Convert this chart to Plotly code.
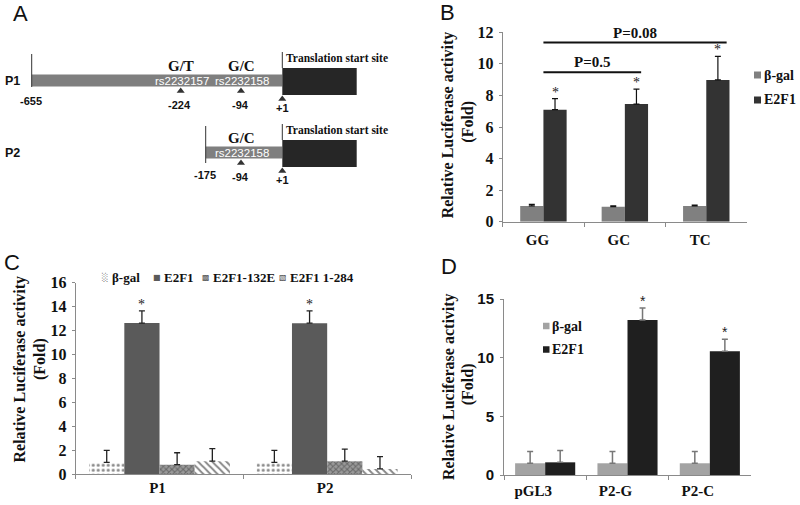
import plotly.graph_objects as go

W, H = 800, 505
SERIF = "Liberation Serif, Times New Roman, serif"
SANS = "Liberation Sans, Arial, sans-serif"

# ---------------- data ----------------
# Panel B
b_cats = ["GG", "GC", "TC"]
b_bgal = [1.0, 0.95, 1.0]
b_bgal_err = [0.1, 0.05, 0.05]
b_e2f1 = [7.1, 7.45, 8.98]
b_e2f1_err = [0.7, 0.95, 1.5]
b_p_labels = ["P=0.5", "P=0.08"]
b_p_level = [9.47, 11.35]
b_p_end = [1.2, 2.25]

# Panel C
c_cats = ["P1", "P2"]
c_bgal = [1.0, 1.0]
c_bgal_err = [1.0, 1.0]
c_e2f1 = [12.63, 12.62]
c_e2f1_err = [1.02, 1.02]
c_132e = [0.8, 1.1]
c_132e_err = [1.0, 1.0]
c_1284 = [1.1, 0.45]
c_1284_err = [1.05, 1.02]

# Panel D
d_cats = ["pGL3", "P2-G", "P2-C"]
d_bgal = [1.0, 1.0, 1.0]
d_bgal_err = [1.0, 1.0, 1.0]
d_e2f1 = [1.08, 13.2, 10.55]
d_e2f1_err = [1.0, 1.03, 1.03]
d_sig_e2f1 = [False, True, True]


def px(x):
    return x / W


def py(y):
    return 1 - y / H


fig = go.Figure()
annos = []
shapes = []


def add_group(series, cats, xa, ya, gap, err_color, err_thick, star_font, star_shift):
    n = len(series)
    gw = 1 - gap
    bw = gw / n
    for k, s in enumerate(series):
        off = -gw / 2 + k * bw
        fig.add_trace(go.Bar(
            x=cats, y=s["y"], width=bw, offset=off, xaxis=xa, yaxis=ya,
            name=s["name"], showlegend=False, marker=s["marker"],
            error_y=dict(type="data", array=s["err"], arrayminus=[0] * len(cats),
                         symmetric=False, color=err_color, thickness=err_thick, width=3),
        ))
        for i, c in enumerate(cats):
            if s["sig"][i]:
                annos.append(dict(
                    x=i + off + bw / 2, y=s["y"][i] + s["err"][i], xref=xa, yref=ya,
                    text="*", showarrow=False, yanchor="bottom", yshift=star_shift,
                    font=star_font))


# Panel B bars
add_group([
    dict(name="β-gal", y=b_bgal, err=b_bgal_err, sig=[False] * 3,
         marker=dict(color="#808080", line=dict(width=0))),
    dict(name="E2F1", y=b_e2f1, err=b_e2f1_err, sig=[True] * 3,
         marker=dict(color="#333333", line=dict(width=0))),
], b_cats, "x", "y", 0.43, "#111", 1.2, dict(family=SERIF, size=14, color="#222"), -3)

# Panel C bars
add_group([
    dict(name="β-gal", y=c_bgal, err=c_bgal_err, sig=[False] * 2,
         marker=dict(color="white", line=dict(width=0),
                     pattern=dict(shape=".", fgcolor="#111", size=5, solidity=0.3))),
    dict(name="E2F1", y=c_e2f1, err=c_e2f1_err, sig=[True] * 2,
         marker=dict(color="#5a5a5a", line=dict(width=0))),
    dict(name="E2F1-132E", y=c_132e, err=c_132e_err, sig=[False] * 2,
         marker=dict(color="#9a9a9a", line=dict(width=0),
                     pattern=dict(shape="x", fgcolor="#333", size=4, solidity=0.45))),
    dict(name="E2F1 1-284", y=c_1284, err=c_1284_err, sig=[False] * 2,
         marker=dict(color="white", line=dict(width=0),
                     pattern=dict(shape="\\", fgcolor="#111", size=5, solidity=0.4))),
], c_cats, "x2", "y2", 0.16, "#222", 1.3, dict(family=SERIF, size=14, color="#222"), -3)

# Panel D bars
add_group([
    dict(name="β-gal", y=d_bgal, err=d_bgal_err, sig=[False] * 3,
         marker=dict(color="#a3a3a3", line=dict(width=0))),
    dict(name="E2F1", y=d_e2f1, err=d_e2f1_err, sig=d_sig_e2f1,
         marker=dict(color="#1f1f1f", line=dict(width=0))),
], d_cats, "x3", "y3", 0.27, "#777", 1.5, dict(family=SANS, size=14, color="#222"), -3)

# P-value comparison lines in B
for lab, lvl, end in zip(b_p_labels, b_p_level, b_p_end):
    shapes.append(dict(type="line", xref="x", yref="y", x0=0, x1=end, y0=lvl, y1=lvl,
                       line=dict(color="#111", width=2)))
    annos.append(dict(x=end / 2, y=lvl, xref="x", yref="y", text=lab, showarrow=False,
                      yanchor="bottom", yshift=0,
                      font=dict(family=SERIF, size=15, color="#111", weight="bold")))

# ---------------- axes ----------------
axis_line = "#8a8a8a"
serif_ytick = dict(family=SERIF, size=16, color="#111", weight="bold")
serif_xtick = dict(family=SERIF, size=15, color="#111", weight="bold")
sans_tick = dict(family=SANS, size=15, color="#111", weight="bold")

xcommon = dict(type="category", showgrid=False, zeroline=False, showline=True,
               linecolor=axis_line, linewidth=1, ticks="outside", tickson="boundaries",
               ticklen=4, tickcolor=axis_line, automargin=False)
ycommon = dict(showgrid=False, zeroline=False, showline=True, linecolor=axis_line,
               linewidth=1, ticks="outside", ticklen=3, tickcolor=axis_line, automargin=False)

layout = dict(
    width=W, height=H, margin=dict(l=0, r=0, t=0, b=0, pad=0, autoexpand=False),
    paper_bgcolor="white", plot_bgcolor="rgba(0,0,0,0)", barmode="overlay",
    showlegend=False,
    xaxis=dict(xcommon, domain=[px(502.7), px(747)], anchor="y", range=[-0.5, 2.5],
               tickfont=serif_xtick, ticklabelshift=-6, ticklabelstandoff=4),
    yaxis=dict(ycommon, domain=[py(221.7), py(32.3)], anchor="x", range=[0, 12], dtick=2,
               tickfont=serif_ytick, ticklabelstandoff=2),
    xaxis2=dict(xcommon, domain=[px(75.7), px(411)], anchor="y2", range=[-0.5, 1.5],
                tickfont=serif_xtick, ticklabelshift=-2, ticklabelstandoff=0),
    yaxis2=dict(ycommon, domain=[py(474.3), py(282.7)], anchor="x2", range=[0, 16], dtick=2,
                tickfont=serif_ytick, ticklabelstandoff=2),
    xaxis3=dict(xcommon, domain=[px(504), px(751)], anchor="y3", range=[-0.5, 2.5],
                tickfont=serif_xtick, ticklabelshift=-12, ticklabelstandoff=2),
    yaxis3=dict(ycommon, domain=[py(475), py(299)], anchor="x3", range=[0, 15], dtick=5,
                tickfont=sans_tick, ticklabelstandoff=3),
    xaxis4=dict(domain=[0, 0.5], anchor="y4", range=[0, 400], visible=False, automargin=False),
    yaxis4=dict(domain=[py(250), 1], anchor="x4", range=[250, 0], visible=False, automargin=False),
)

# y-axis titles
ytitle_font = dict(family=SERIF, size=16, color="#111", weight="bold")
for (x1, y1, x2, y2) in [(448.3, 125, 467.7, 122), (19.5, 369, 40, 359), (448.3, 386.7, 468.3, 384)]:
    annos.append(dict(x=px(x1), y=py(y1), xref="paper", yref="paper",
                      text="Relative Luciferase activity", textangle=-90, showarrow=False,
                      font=ytitle_font, xanchor="center", yanchor="middle"))
    annos.append(dict(x=px(x2), y=py(y2), xref="paper", yref="paper", text="(Fold)",
                      textangle=-90, showarrow=False, font=ytitle_font,
                      xanchor="center", yanchor="middle"))

# panel letters
for lab, x, y in [("A", 20, 13), ("B", 447, 12), ("C", 12, 262), ("D", 449, 266)]:
    annos.append(dict(x=px(x), y=py(y), xref="paper", yref="paper", text=lab,
                      showarrow=False, font=dict(family=SANS, size=22, color="#111"),
                      xanchor="center", yanchor="middle"))

# legends (symbol + text)
leg_font = dict(family="Liberation Serif", size=14, color="#111", weight="bold")
sq_leg = [("β-gal", "#808080", 754, 762, 75, 7), ("E2F1", "#333333", 754, 762, 100, 7),
          ("β-gal", "#a3a3a3", 543, 550, 326, 6.5), ("E2F1", "#1f1f1f", 543, 550, 349.5, 6.5)]
for name, col, sx, tx, cy, sz in sq_leg:
    shapes.append(dict(type="rect", xref="paper", yref="paper", x0=px(sx), x1=px(sx + sz),
                       y0=py(cy + sz / 2), y1=py(cy - sz / 2), fillcolor=col, line=dict(width=0)))
    annos.append(dict(x=px(tx), y=py(cy), xref="paper", yref="paper", text=name,
                      showarrow=False, font=leg_font, xanchor="left", yanchor="middle"))

c_leg_font = dict(family="Liberation Serif", size=13, color="#111", weight="bold")
c_leg = [("β-gal", "#666", "░", 105, 110), ("E2F1", "#5a5a5a", "■", 157, 161.5),
         ("E2F1-132E", "#555", "▩", 205.5, 211), ("E2F1 1-284", "#444", "▧", 282.5, 288)]
for name, col, sym, sx, tx in c_leg:
    annos.append(dict(x=px(sx), y=py(277), xref="paper", yref="paper", text=sym,
                      showarrow=False, font=dict(family="DejaVu Sans", size=8, color=col),
                      xanchor="center", yanchor="middle"))
    annos.append(dict(x=px(tx), y=py(277), xref="paper", yref="paper", text=name,
                      showarrow=False, font=c_leg_font, xanchor="left", yanchor="middle"))

# ---------------- Panel A schematic ----------------
a_rows = ["P1", "P2"]
a_row_y = [81, 153]
a_start_x = [31.7, 205.7]
a_start_lab = ["-655", "-175"]
a_tss_x = 282.3
a_box_end = 356.7
a_snp_x = [[180.7, 241], [241]]
a_snp_pos = [["-224", "-94"], ["-94"]]
a_snp_allele = [["G/T", "G/C"], ["G/C"]]
a_snp_id = [["rs2232157", "rs2232158"], ["rs2232158"]]

for r, name in enumerate(a_rows):
    yc = a_row_y[r]
    x0 = a_start_x[r]
    shapes.append(dict(type="rect", xref="x4", yref="y4", x0=x0, x1=a_tss_x,
                       y0=yc - 6.5, y1=yc + 5.5, fillcolor="#7f7f7f", line=dict(width=0)))
    shapes.append(dict(type="rect", xref="x4", yref="y4", x0=a_tss_x, x1=a_box_end,
                       y0=yc - 13, y1=yc + 14, fillcolor="#262626", line=dict(width=0)))
    shapes.append(dict(type="line", xref="x4", yref="y4", x0=x0, x1=x0,
                       y0=yc - 27, y1=yc + 6 + (4 if r else 0), line=dict(color="#333", width=1)))
    shapes.append(dict(type="line", xref="x4", yref="y4", x0=a_tss_x, x1=a_tss_x,
                       y0=yc - 29, y1=yc - 13, line=dict(color="#333", width=1)))
    annos.append(dict(x=a_tss_x + 2, y=yc - 23, xref="x4", yref="y4",
                      text="Translation start site", showarrow=False, xanchor="left",
                      yanchor="middle", font=dict(family=SERIF, size=11.5, color="#111", weight="bold")))
    annos.append(dict(x=12, y=yc, xref="x4", yref="y4", text=name, showarrow=False,
                      font=dict(family=SANS, size=12.5, color="#111", weight="bold")))
    annos.append(dict(x=x0 - 1, y=yc + 20 + (2 if r else 0), xref="x4", yref="y4",
                      text=a_start_lab[r], showarrow=False,
                      font=dict(family=SANS, size=11, color="#111", weight="bold")))
    tri_x = a_snp_x[r] + [a_tss_x]
    tri_y = [yc + 10] * len(a_snp_x[r]) + [yc + 18]
    fig.add_trace(go.Scatter(x=tri_x, y=tri_y, xaxis="x4", yaxis="y4", mode="markers",
                             marker=dict(symbol="triangle-up", size=7, color="#333"),
                             showlegend=False, hoverinfo="skip"))
    annos.append(dict(x=a_tss_x, y=yc + 27, xref="x4", yref="y4", text="+1",
                      showarrow=False, font=dict(family=SANS, size=11, color="#111", weight="bold")))
    for sx, pos, al, sid in zip(a_snp_x[r], a_snp_pos[r], a_snp_allele[r], a_snp_id[r]):
        annos.append(dict(x=sx - 1, y=yc + 24, xref="x4", yref="y4", text=pos, showarrow=False,
                          font=dict(family=SANS, size=11, color="#111", weight="bold")))
        annos.append(dict(x=sx, y=yc - 15, xref="x4", yref="y4", text=al, showarrow=False,
                          font=dict(family=SERIF, size=15, color="#111", weight="bold")))
        annos.append(dict(x=sx + 1, y=yc, xref="x4", yref="y4", text=sid, showarrow=False,
                          font=dict(family=SANS, size=11.5, color="white")))

layout["annotations"] = annos
layout["shapes"] = shapes
fig.update_layout(**layout)
fig.write_html("out.html", config={"displayModeBar": False},
               post_script="document.body.style.margin='0';document.body.style.padding='0';")
